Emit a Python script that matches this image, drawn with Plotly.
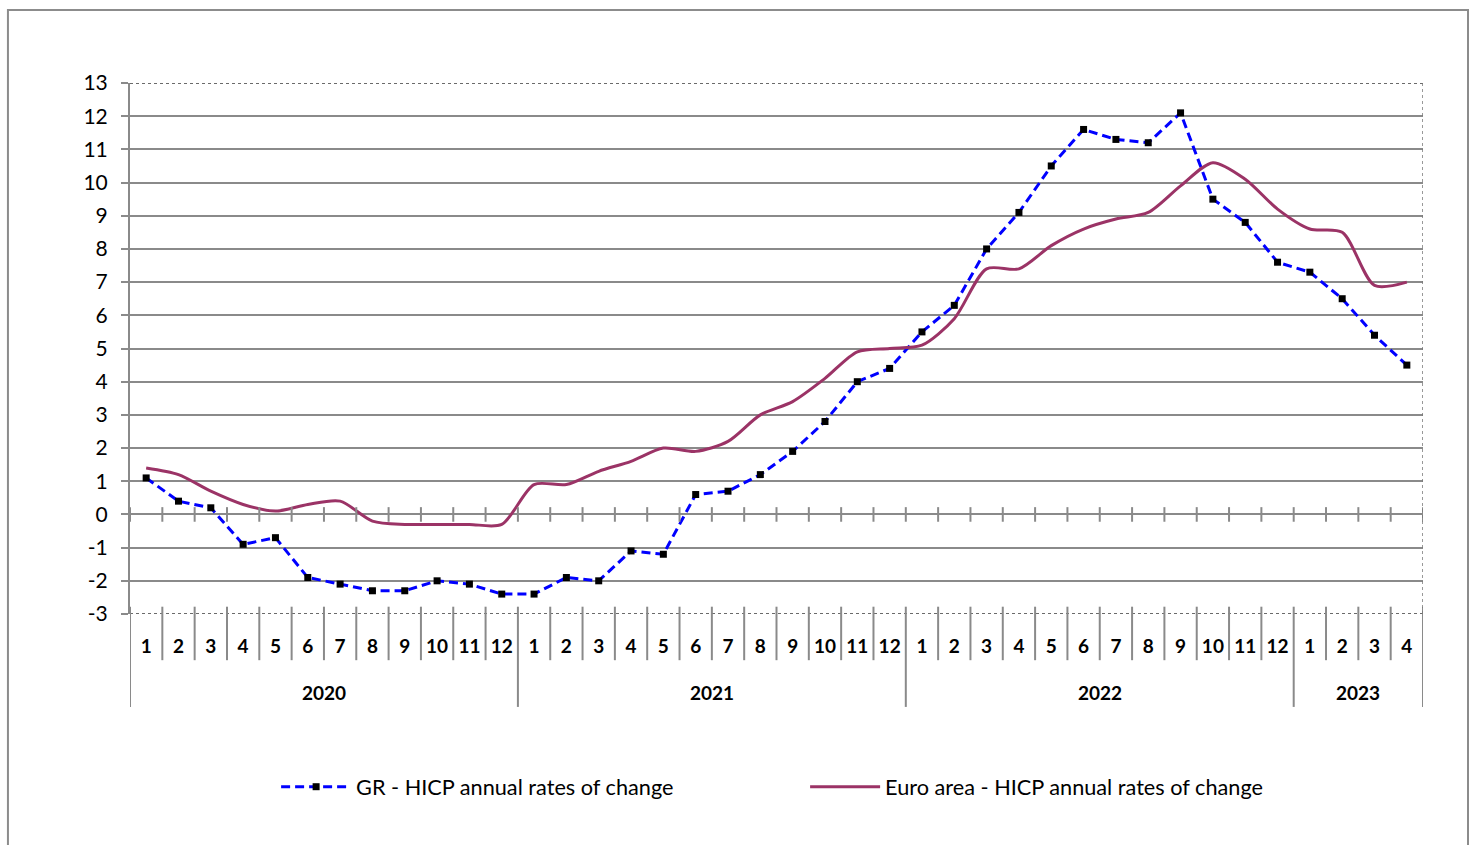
import plotly.graph_objects as go

# ---- data ----
years = ["2020", "2021", "2022", "2023"]
months_per_year = [12, 12, 12, 4]
month_labels = ["1", "2", "3", "4", "5", "6", "7", "8", "9", "10", "11", "12",
                "1", "2", "3", "4", "5", "6", "7", "8", "9", "10", "11", "12",
                "1", "2", "3", "4", "5", "6", "7", "8", "9", "10", "11", "12",
                "1", "2", "3", "4"]
gr_hicp = [1.1, 0.4, 0.2, -0.9, -0.7, -1.9, -2.1, -2.3, -2.3, -2.0, -2.1, -2.4,
           -2.4, -1.9, -2.0, -1.1, -1.2, 0.6, 0.7, 1.2, 1.9, 2.8, 4.0, 4.4,
           5.5, 6.3, 8.0, 9.1, 10.5, 11.6, 11.3, 11.2, 12.1, 9.5, 8.8, 7.6,
           7.3, 6.5, 5.4, 4.5]
ea_hicp = [1.4, 1.2, 0.7, 0.3, 0.1, 0.3, 0.4, -0.2, -0.3, -0.3, -0.3, -0.3,
           0.9, 0.9, 1.3, 1.6, 2.0, 1.9, 2.2, 3.0, 3.4, 4.1, 4.9, 5.0,
           5.1, 5.9, 7.4, 7.4, 8.1, 8.6, 8.9, 9.1, 9.9, 10.6, 10.1, 9.2,
           8.6, 8.5, 6.9, 7.0]
y_ticks = [-3, -2, -1, 0, 1, 2, 3, 4, 5, 6, 7, 8, 9, 10, 11, 12, 13]
y_tick_labels = ["-3", "-2", "-1", "0", "1", "2", "3", "4", "5", "6", "7", "8",
                 "9", "10", "11", "12", "13"]
gr_name = "GR - HICP annual rates of change"
ea_name = "Euro area - HICP annual rates of change"

# ---- figure ----
x = list(range(1, len(gr_hicp) + 1))
n = len(x)
ymin, ymax = y_ticks[0], y_ticks[-1]
GRID = "#8a8a8a"
FONT = "Lato"

fig = go.Figure()
fig.add_trace(go.Scatter(
    x=x, y=gr_hicp, name=gr_name, mode="lines+markers",
    line=dict(color="#0000FF", width=3, dash="9px,5px"),
    marker=dict(symbol="square", size=7, color="black"),
))
fig.add_trace(go.Scatter(
    x=x, y=ea_hicp, name=ea_name, mode="lines",
    line=dict(color="#9B3366", width=3, shape="spline", smoothing=0.8),
))

shapes = []
# top and bottom dotted borders of the plot area
for yy in (ymin, ymax):
    shapes.append(dict(type="line", xref="x", yref="y", x0=0.5, x1=n + 0.5,
                       y0=yy, y1=yy, line=dict(color="#6a6a6a", width=2, dash="dot")))
# year boundaries
bounds = [0.5]
for m in months_per_year:
    bounds.append(bounds[-1] + m)
# month separators below the axis and tick marks on the 0 line / bottom line
for k in range(n + 1):
    bx = k + 0.5
    is_year = bx in bounds
    shapes.append(dict(type="line", xref="x", yref="paper", x0=bx, x1=bx,
                       y0=-0.175 if is_year else -0.087, y1=0,
                       line=dict(color=GRID, width=2)))
    shapes.append(dict(type="line", xref="x", yref="y", x0=bx, x1=bx,
                       y0=-0.22, y1=0.22, line=dict(color=GRID, width=2)))
    shapes.append(dict(type="line", xref="x", yref="y", x0=bx, x1=bx,
                       y0=ymin, y1=ymin + 0.22, line=dict(color=GRID, width=2)))
# right dotted border of the plot area
shapes.append(dict(type="line", xref="x", yref="y", x0=n + 0.5, x1=n + 0.5,
                   y0=ymin, y1=ymax, line=dict(color="#777777", width=1.5, dash="dot")))
# outer chart frame
shapes.append(dict(type="rect", xref="paper", yref="paper",
                   x0=-0.0944, x1=1.0348, y0=-0.6, y1=1.1375,
                   line=dict(color="#8c8c8c", width=2), layer="below"))

annotations = []
start = 1
for yr, m in zip(years, months_per_year):
    annotations.append(dict(x=start + (m - 1) / 2, y=-0.147, xref="x", yref="paper",
                            text=yr, showarrow=False, yanchor="middle",
                            font=dict(family=FONT, size=19, color="black", weight="bold")))
    start += m

fig.update_layout(
    width=1475, height=845, autosize=False,
    paper_bgcolor="white", plot_bgcolor="white",
    margin=dict(l=130, r=52, t=83, b=231),
    font=dict(family=FONT, color="black"),
    showlegend=True,
    legend=dict(orientation="h", x=0.113, y=-0.326, xanchor="left", yanchor="middle",
                font=dict(family=FONT, size=21.7, color="black"),
                itemwidth=70,
                entrywidth=444, entrywidthmode="pixels", bgcolor="rgba(0,0,0,0)"),
    shapes=shapes, annotations=annotations,
    xaxis=dict(range=[0.5, n + 0.5], tickmode="array", tickvals=x, ticktext=month_labels,
               ticks="", showgrid=False, zeroline=False, showline=False,
               ticklabelstandoff=19,
               tickfont=dict(family=FONT, size=19, color="black", weight="bold")),
    yaxis=dict(range=[ymin, ymax], tickmode="array", tickvals=y_ticks,
               ticktext=y_tick_labels,
               ticks="outside", ticklen=7, tickcolor=GRID, tickwidth=2,
               showgrid=True, gridcolor=GRID, gridwidth=2, zeroline=False,
               showline=True, linecolor=GRID, linewidth=2,
               ticklabelstandoff=9,
               tickfont=dict(family=FONT, size=21, color="black")),
)

fig.write_html("out.html", config={"displayModeBar": False},
               post_script="document.body.style.margin='0';document.body.style.overflow='hidden';")
